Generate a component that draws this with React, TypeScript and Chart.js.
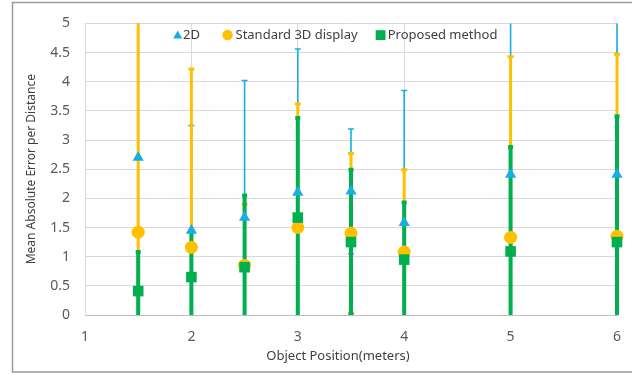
import React, { useEffect, useRef } from "react";
import { Chart, registerables } from "chart.js";

Chart.register(...registerables);

const positions = [1.5, 2, 2.5, 3, 3.5, 4, 5, 6];

const mean2D = [2.7, 1.45, 1.67, 2.1, 2.12, 1.58, 2.41, 2.41];
const err2D = [2.9, 1.8, 2.35, 2.46, 1.07, 2.27, 3.4, 3.4];

const mean3D = [1.42, 1.16, 0.85, 1.5, 1.4, 1.08, 1.33, 1.35];
const err3D = [4.1, 3.06, 1.05, 2.12, 1.37, 1.41, 3.1, 3.12];

const meanProposed = [0.41, 0.65, 0.82, 1.67, 1.25, 0.95, 1.09, 1.25];
const errProposed = [0.67, 0.77, 1.23, 1.71, 1.24, 0.98, 1.79, 2.16];

const seriesLabels = ["2D", "Standard 3D display", "Proposed method"];
const xTitle = "Object Position(meters)";
const yTitle = "Mean Absolute Error per Distance";

const FONT = "'Noto Sans', 'Open Sans', sans-serif";

const errorBarPlugin = {
  id: "errorBars",
  beforeDatasetsDraw(chart: any) {
    const { ctx, chartArea, scales } = chart;
    const xs = scales.x;
    const ys = scales.y;
    ctx.save();
    ctx.beginPath();
    ctx.rect(chartArea.left - 10, chartArea.top, chartArea.right - chartArea.left + 20, chartArea.bottom - chartArea.top);
    ctx.clip();
    chart.data.datasets.forEach((ds: any) => {
      const errs: number[] = ds.errorValues;
      ctx.strokeStyle = ds.backgroundColor;
      ctx.lineWidth = ds.errorWidth;
      ds.data.forEach((pt: any, i: number) => {
        const px = xs.getPixelForValue(pt.x);
        const top = ys.getPixelForValue(pt.y + errs[i]);
        const bot = ys.getPixelForValue(pt.y - errs[i]);
        const cap = ds.capHalf;
        ctx.beginPath();
        ctx.moveTo(px, top);
        ctx.lineTo(px, bot);
        ctx.moveTo(px - cap, top);
        ctx.lineTo(px + cap, top);
        ctx.moveTo(px - cap, bot);
        ctx.lineTo(px + cap, bot);
        ctx.stroke();
      });
    });
    ctx.restore();
  },
};

const borderPlugin = {
  id: "outerBorder",
  beforeDraw(chart: any) {
    const { ctx } = chart;
    ctx.save();
    ctx.strokeStyle = "#9a9a9a";
    ctx.lineWidth = 1.5;
    ctx.strokeRect(12.5, 2.5, 640, 369.5);
    ctx.restore();
  },
};

const legendPlugin = {
  id: "insideLegend",
  afterDraw(chart: any) {
    const { ctx } = chart;
    const ds = chart.data.datasets;
    const cy = 35;
    ctx.save();
    ctx.font = `13px ${FONT}`;
    ctx.fillStyle = "#404040";
    ctx.textBaseline = "middle";
    ctx.textAlign = "left";
    // 2D triangle
    ctx.fillStyle = ds[0].backgroundColor;
    ctx.beginPath();
    ctx.moveTo(177.7, cy - 4.5);
    ctx.lineTo(182.2, cy + 3.5);
    ctx.lineTo(173.2, cy + 3.5);
    ctx.closePath();
    ctx.fill();
    ctx.fillStyle = "#404040";
    ctx.fillText(ds[0].label, 183, cy);
    // circle
    ctx.fillStyle = ds[1].backgroundColor;
    ctx.beginPath();
    ctx.arc(227.5, cy, 5.2, 0, Math.PI * 2);
    ctx.fill();
    ctx.fillStyle = "#404040";
    ctx.fillText(ds[1].label, 235.5, cy);
    // square
    ctx.fillStyle = ds[2].backgroundColor;
    ctx.fillRect(375.7, cy - 4.8, 9.8, 9.8);
    ctx.fillStyle = "#404040";
    ctx.fillText(ds[2].label, 387.7, cy);
    // x title
    ctx.textAlign = "center";
    ctx.fillText(xTitle, 338, 356);
    ctx.restore();
  },
};

export default function App() {
  const ref = useRef<HTMLCanvasElement>(null);

  useEffect(() => {
    document.body.style.margin = "0";
    const toPts = (vals: number[]) => positions.map((x, i) => ({ x, y: vals[i] }));
    const chart = new Chart(ref.current as HTMLCanvasElement, {
      type: "scatter",
      data: {
        datasets: [
          {
            label: seriesLabels[0],
            data: toPts(mean2D),
            errorValues: err2D,
            errorWidth: 1.6,
            capHalf: 3,
            backgroundColor: "#1AADE4",
            borderColor: "#1AADE4",
            borderWidth: 0,
            pointStyle: "triangle",
            pointRadius: 6.5,
            pointBorderWidth: 0,
            clip: false,
            order: 2,
          } as any,
          {
            label: seriesLabels[1],
            data: toPts(mean3D),
            errorValues: err3D,
            errorWidth: 3,
            capHalf: 3,
            backgroundColor: "#FFC000",
            borderColor: "#FFC000",
            borderWidth: 0,
            pointStyle: "circle",
            pointRadius: 6.5,
            pointBorderWidth: 0,
            clip: false,
            order: 1,
          } as any,
          {
            label: seriesLabels[2],
            data: toPts(meanProposed),
            errorValues: errProposed,
            errorWidth: 4,
            capHalf: 2.5,
            backgroundColor: "#00B050",
            borderColor: "#00B050",
            borderWidth: 0,
            pointStyle: "rect",
            pointRadius: 7.5,
            pointBorderWidth: 0,
            clip: false,
            order: 0,
          } as any,
        ],
      },
      options: {
        animation: false,
        responsive: false,
        events: [],
        layout: { padding: { left: 12, right: 15, top: 23, bottom: 8 } },
        plugins: {
          tooltip: { enabled: false },
          legend: { display: false },
        },
        scales: {
          x: {
            type: "linear",
            min: 1,
            max: 6,
            afterFit: (s: any) => {
              s.height = 51;
            },
            ticks: {
              stepSize: 1,
              color: "#595959",
              padding: 3,
              font: { family: FONT, size: 14 },
            },
            grid: { color: "#d9d9d9", drawTicks: true, tickLength: 11, tickColor: "rgba(0,0,0,0)" },
            border: { color: "#bfbfbf" },
          },
          y: {
            min: 0,
            max: 5,
            afterFit: (s: any) => {
              s.width = 73;
            },
            ticks: {
              stepSize: 0.5,
              color: "#595959",
              padding: 15,
              font: { family: FONT, size: 14 },
              callback: (v: any) => String(Number(v)),
            },
            grid: { color: "#d9d9d9", drawTicks: false },
            border: { color: "#d9d9d9" },
            title: {
              display: true,
              text: yTitle,
              color: "#404040",
              font: { family: FONT, size: 12 },
              padding: { top: 12, bottom: 0 },
            },
          },
        },
      },
      plugins: [errorBarPlugin, borderPlugin, legendPlugin],
    });
    return () => chart.destroy();
  }, []);

  return (
    <div style={{ width: 632, height: 374 }}>
      <canvas ref={ref} width={632} height={374} />
    </div>
  );
}
